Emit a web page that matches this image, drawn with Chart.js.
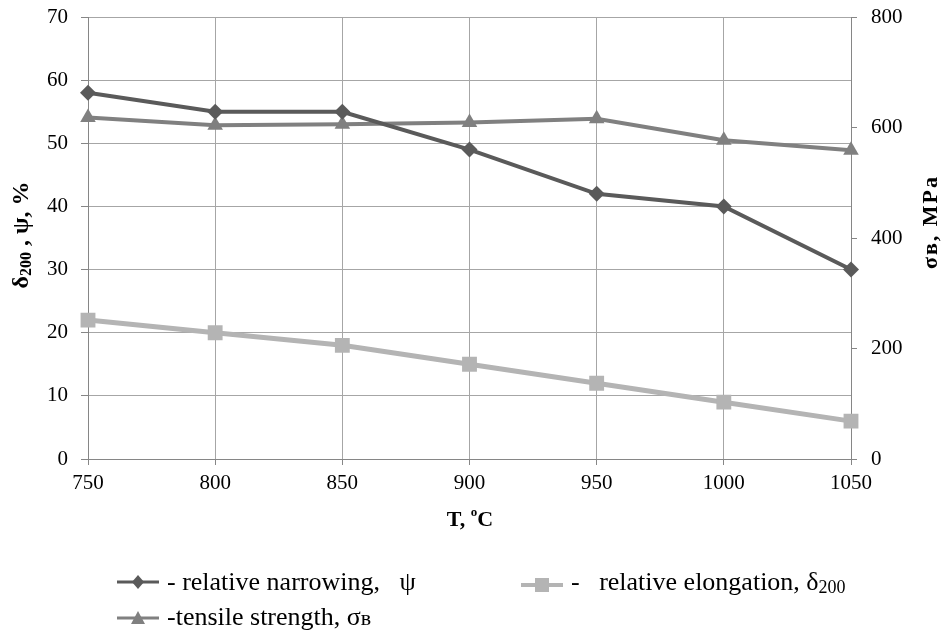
<!DOCTYPE html>
<html>
<head>
<meta charset="utf-8">
<script src="https://cdn.jsdelivr.net/npm/chart.js@4"></script>
<style>
  body { margin: 0; background: #fff; }
  #wrap { position: relative; width: 945px; height: 637px; }
  .legend-item {
    position: absolute;
    font-family: "Liberation Serif", "Times New Roman", Times, serif;
    font-size: 26px;
    color: #000;
    white-space: nowrap;
    line-height: 30px;
    display: flex;
    align-items: center;
  }
  .legend-item svg { margin-right: 7px; }
  .legend-item sub { font-size: 18px; vertical-align: -3px; }
</style>
</head>
<body>
<div id="wrap">
  <canvas id="chart" width="945" height="637"></canvas>
  <div class="legend-item" style="left:116px; top:567px;">
    <svg width="44" height="20"><line x1="1" y1="10" x2="43" y2="10" stroke="#5a5a5a" stroke-width="3"/><polygon points="22,3 28,10 22,17 16,10" fill="#5a5a5a"/></svg>
    <span>- relative narrowing,&nbsp;&nbsp; ψ</span>
  </div>
  <div class="legend-item" style="left:520px; top:567px;">
    <svg width="44" height="20"><line x1="1" y1="10" x2="43" y2="10" stroke="#b4b4b4" stroke-width="4"/><rect x="15" y="3" width="14" height="14" fill="#b4b4b4"/></svg>
    <span>-&nbsp;&nbsp; relative elongation, δ<sub>200</sub></span>
  </div>
  <div class="legend-item" style="left:116px; top:602px;">
    <svg width="44" height="20"><line x1="1" y1="10" x2="43" y2="10" stroke="#808080" stroke-width="3"/><polygon points="22,3 29,16 15,16" fill="#808080"/></svg>
    <span>-tensile strength, σ<span style="font-size:22px">в</span></span>
  </div>
</div>
<script>
const temperatures = ["750", "800", "850", "900", "950", "1000", "1050"];
const narrowing = [58, 55, 55, 49, 42, 40, 30];
const elongation = [22, 20, 18, 15, 12, 9, 6];
const tensile = [618, 604, 606, 609, 616, 577, 559];
const leftTicks = [0, 10, 20, 30, 40, 50, 60, 70];
const rightTicks = [0, 200, 400, 600, 800];

const FONT = "'Liberation Serif', 'Times New Roman', serif";
const GRID = "#a6a6a6";
const AXIS = "#868686";

// axis titles with subscripts drawn by hand
const axisTitles = {
  id: "axisTitles",
  afterDraw(chart) {
    const ctx = chart.ctx;
    ctx.save();
    ctx.fillStyle = "#000";
    ctx.textBaseline = "middle";
    ctx.textAlign = "left";

    // x title: T, °C
    const xBig = "bold 22px " + FONT, xSmall = "bold 13px " + FONT;
    ctx.font = xBig;
    const wa = ctx.measureText("T, ").width, wc = ctx.measureText("C").width;
    ctx.font = xSmall;
    const wo = ctx.measureText("o").width;
    let x = 470 - (wa + wo + wc) / 2;
    ctx.font = xBig;
    ctx.fillText("T, ", x, 520);
    ctx.font = xSmall;
    ctx.fillText("o", x + wa, 513);
    ctx.font = xBig;
    ctx.fillText("C", x + wa + wo, 520);

    // left title: δ200, ψ, %
    const big = "bold 24px " + FONT, small = "bold 16px " + FONT;
    ctx.save();
    ctx.translate(22, 235);
    ctx.rotate(-Math.PI / 2);
    const parts = [["δ", big, 0], ["200", small, 5], [" , ψ, %", big, 0]];
    let total = 0;
    parts.forEach(p => { ctx.font = p[1]; total += ctx.measureText(p[0]).width; });
    x = -total / 2;
    parts.forEach(p => {
      ctx.font = p[1];
      ctx.fillText(p[0], x, p[2]);
      x += ctx.measureText(p[0]).width;
    });
    ctx.restore();

    // right title: σв, МРа
    ctx.save();
    ctx.translate(931, 222);
    ctx.rotate(-Math.PI / 2);
    ctx.font = "bold 22px " + FONT;
    ctx.letterSpacing = "2px";
    ctx.textAlign = "center";
    ctx.fillText("σв, МРа", 0, 0);
    ctx.restore();

    ctx.restore();
  }
};

const tickFont = { family: FONT, size: 21 };

new Chart(document.getElementById("chart"), {
  type: "line",
  data: {
    labels: temperatures,
    datasets: [
      {
        label: "relative narrowing, ψ",
        data: narrowing,
        yAxisID: "y",
        borderColor: "#5a5a5a",
        backgroundColor: "#5a5a5a",
        borderWidth: 4,
        pointStyle: "rectRot",
        pointRadius: 8,
        pointBorderWidth: 0,
      },
      {
        label: "relative elongation, δ200",
        data: elongation,
        yAxisID: "y",
        borderColor: "#b4b4b4",
        backgroundColor: "#b4b4b4",
        borderWidth: 5,
        pointStyle: "rect",
        pointRadius: 10.5,
        pointBorderWidth: 0,
      },
      {
        label: "tensile strength, σв",
        data: tensile,
        yAxisID: "y1",
        borderColor: "#808080",
        backgroundColor: "#808080",
        borderWidth: 4,
        pointStyle: "triangle",
        pointRadius: 9,
        pointBorderWidth: 0,
      },
    ],
  },
  options: {
    responsive: false,
    animation: false,
    layout: { padding: { top: 17, left: 0, right: 0, bottom: 0 } },
    plugins: {
      legend: { display: false },
      tooltip: { enabled: false },
    },
    scales: {
      x: {
        type: "category",
        offset: false,
        grid: { color: GRID, tickLength: 6, tickColor: AXIS },
        border: { color: AXIS },
        ticks: { color: "#000", font: tickFont, padding: 6, maxRotation: 0 },
        afterFit(scale) { scale.height = 178; scale.paddingLeft = 0; scale.paddingRight = 0; },
      },
      y: {
        position: "left",
        min: 0,
        max: 70,
        afterBuildTicks(scale) { scale.ticks = leftTicks.map(v => ({ value: v })); },
        grid: { color: GRID, tickLength: 7, tickColor: AXIS },
        border: { color: AXIS },
        ticks: { color: "#000", font: tickFont, padding: 13 },
        afterFit(scale) { scale.width = 88; scale.paddingTop = 0; scale.paddingBottom = 0; },
      },
      y1: {
        position: "right",
        min: 0,
        max: 800,
        afterBuildTicks(scale) { scale.ticks = rightTicks.map(v => ({ value: v })); },
        grid: { drawOnChartArea: false, tickLength: 6, color: AXIS },
        border: { color: AXIS },
        ticks: { color: "#000", font: tickFont, padding: 14 },
        afterFit(scale) { scale.width = 94; scale.paddingTop = 0; scale.paddingBottom = 0; },
      },
    },
  },
  plugins: [axisTitles],
});
</script>
</body>
</html>
